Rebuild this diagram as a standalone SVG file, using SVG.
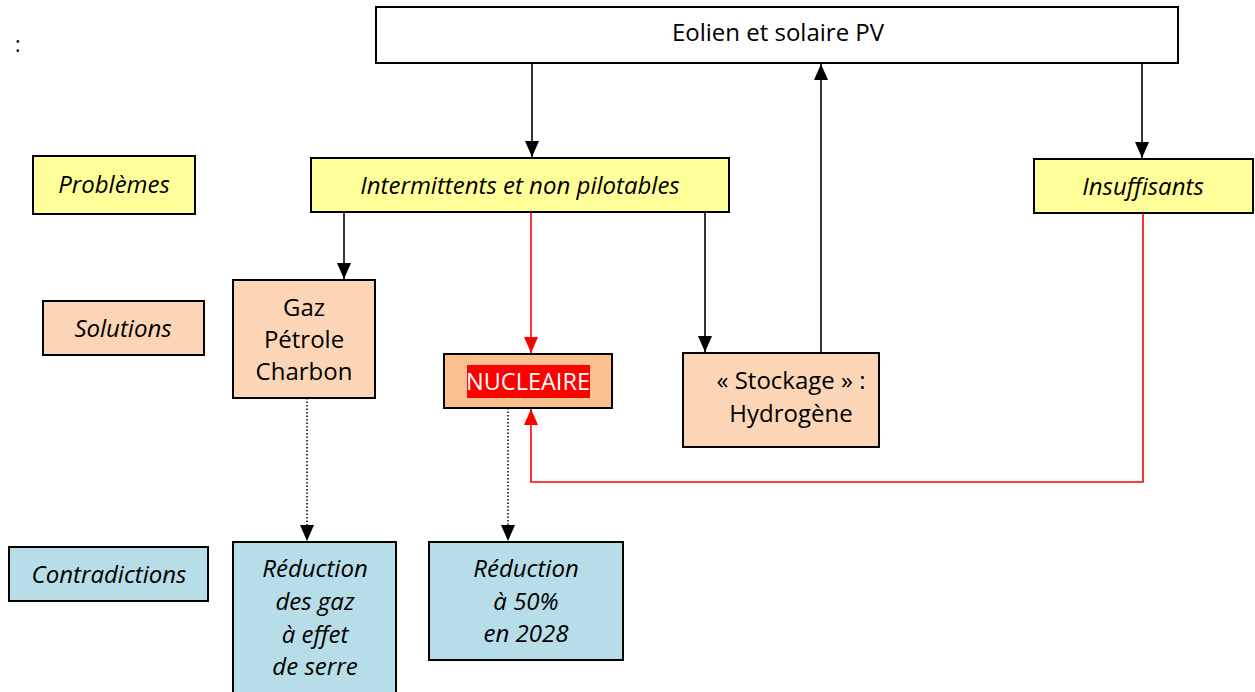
<svg xmlns="http://www.w3.org/2000/svg" width="1255" height="692" viewBox="0 0 1255 692">
<style>
.b{stroke:#000;stroke-width:2}
.t{font-family:"Open Sans",Lato,"Liberation Sans",sans-serif;font-size:24px;fill:#000;text-anchor:middle}
.i{font-style:italic}
.y{fill:#FFFF99}.o{fill:#FBD5B5}.n{fill:#FAC090}.c{fill:#B7DDE8}
.k{stroke:#000;stroke-width:1.6;fill:none}
.r{stroke:#FF0000;stroke-width:1.6;fill:none}
.d{stroke:#000;stroke-width:1.5;fill:none;stroke-dasharray:1.5 2}
</style>
<defs>
<marker id="ak" viewBox="0 0 16 14" refX="16" refY="7" markerWidth="16" markerHeight="14" markerUnits="userSpaceOnUse" orient="auto"><path d="M0 0L16 7L0 14Z" fill="#000"/></marker>
<marker id="ar" viewBox="0 0 16 14" refX="16" refY="7" markerWidth="16" markerHeight="14" markerUnits="userSpaceOnUse" orient="auto"><path d="M0 0L16 7L0 14Z" fill="#FF0000"/></marker>
</defs>
<rect width="1255" height="692" fill="#fff"/>
<text x="15" y="52" class="t" style="text-anchor:start;font-size:21px">:</text>
<g id="connectors">
<line x1="532" y1="63" x2="532" y2="157" class="k" marker-end="url(#ak)"/>
<line x1="821" y1="353" x2="821" y2="64" class="k" marker-end="url(#ak)"/>
<line x1="1142" y1="63" x2="1142" y2="158" class="k" marker-end="url(#ak)"/>
<line x1="344" y1="212" x2="344" y2="279" class="k" marker-end="url(#ak)"/>
<line x1="705" y1="212" x2="705" y2="352" class="k" marker-end="url(#ak)"/>
<line x1="531" y1="212" x2="531" y2="353" class="r" marker-end="url(#ar)"/>
<polyline points="1143,213 1143,482 531,482 531,409" class="r" marker-end="url(#ar)"/>
<line x1="307" y1="398" x2="307" y2="541" class="d" marker-end="url(#ak)"/>
<line x1="508" y1="408" x2="508" y2="541" class="d" marker-end="url(#ak)"/>
</g>
<g id="eolien"><rect x="376" y="7" width="802" height="56" fill="#fff" class="b"/><text x="778" y="41" class="t">Eolien et solaire PV</text></g>
<g id="problemes"><rect x="33" y="156" width="162" height="58" class="b y"/><text x="114" y="193" class="t i">Problèmes</text></g>
<g id="intermittents"><rect x="311" y="158" width="418" height="54" class="b y"/><text x="520" y="194" class="t i">Intermittents et non pilotables</text></g>
<g id="insuffisants"><rect x="1034" y="159" width="219" height="54" class="b y"/><text x="1143" y="195" class="t i">Insuffisants</text></g>
<g id="solutions"><rect x="43" y="301" width="161" height="54" class="b o"/><text x="123" y="337" class="t i">Solutions</text></g>
<g id="gaz"><rect x="233" y="280" width="142" height="118" class="b o"/><text class="t"><tspan x="304" y="316">Gaz</tspan><tspan x="304" y="348">Pétrole</tspan><tspan x="304" y="380">Charbon</tspan></text></g>
<g id="nucleaire"><rect x="444" y="354" width="168" height="54" class="b n"/><rect x="467" y="365" width="123" height="33" fill="#FF0000"/><text x="528" y="390" class="t" style="fill:#fff;font-size:23.5px">NUCLEAIRE</text></g>
<g id="stockage"><rect x="683" y="353" width="196" height="94" class="b o"/><text class="t"><tspan x="791" y="389">« Stockage » :</tspan><tspan x="791" y="422">Hydrogène</tspan></text></g>
<g id="contradictions"><rect x="9" y="547" width="199" height="54" class="b c"/><text x="109" y="583" class="t i">Contradictions</text></g>
<g id="reduction-gaz"><rect x="233" y="542" width="163" height="160" class="b c"/><text class="t i"><tspan x="315" y="577">Réduction</tspan><tspan x="315" y="610">des gaz</tspan><tspan x="315" y="643">à effet</tspan><tspan x="315" y="675">de serre</tspan></text></g>
<g id="reduction-50"><rect x="429" y="542" width="194" height="118" class="b c"/><text class="t i"><tspan x="526" y="577">Réduction</tspan><tspan x="526" y="610">à 50%</tspan><tspan x="526" y="642">en 2028</tspan></text></g>
</svg>
